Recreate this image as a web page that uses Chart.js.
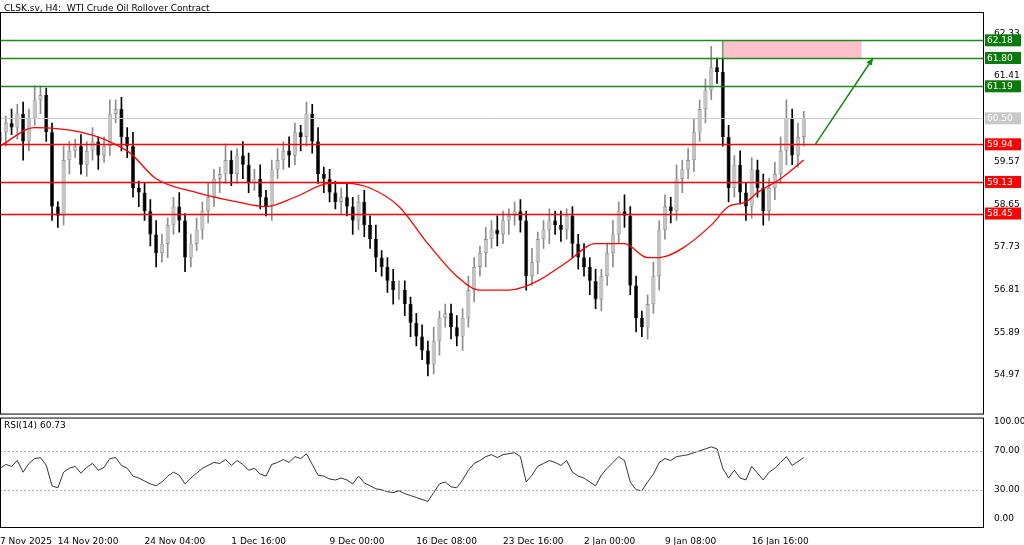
<!DOCTYPE html>
<html><head><meta charset="utf-8">
<script src="https://cdn.jsdelivr.net/npm/chart.js@4"></script>
<style>html,body{margin:0;padding:0;background:#fff}#w{position:relative;width:1024px;height:545px}
.t{position:absolute;font:9px "DejaVu Sans",sans-serif;color:#000}</style></head>
<body><div id="w"><canvas id="c" width="1024" height="545"></canvas>
<div class="t" style="left:4px;top:3px">CLSK.sv, H4:&nbsp; WTI Crude Oil Rollover Contract</div>
<div class="t" style="left:4px;top:420px">RSI(14) 60.73</div></div>
<script>
const closes=[60.2,60.4,60.3,60.6,60.0,60.5,60.9,61.0,60.2,58.6,
58.4,59.6,59.8,59.9,59.5,59.8,60.0,59.7,59.9,60.6,
60.7,60.1,59.9,59.0,58.9,58.5,58.0,57.6,57.8,58.2,
58.6,58.3,57.5,57.8,58.1,58.5,58.8,59.2,59.3,59.6,
59.3,59.7,59.5,59.1,59.2,58.8,58.6,59.4,59.6,59.8,
59.7,60.2,60.1,60.6,60.0,59.3,59.2,58.9,58.7,58.8,
58.6,58.3,58.7,58.2,57.9,57.5,57.3,57.0,56.8,56.8,
56.5,56.1,55.8,55.5,55.2,55.7,56.2,56.3,56.0,55.8,
56.2,56.8,57.3,57.6,57.9,58.1,58.0,58.3,58.4,58.5,
58.3,57.1,57.4,57.9,58.1,58.3,58.2,58.1,58.4,57.8,
57.5,57.3,57.0,56.6,57.1,57.6,58.0,58.5,58.4,56.9,
56.2,56.0,56.5,57.1,58.1,58.6,58.5,59.2,59.4,59.6,
60.2,60.7,61.1,61.6,61.5,60.1,59.0,59.5,58.9,58.6,
59.4,59.0,58.5,59.0,59.3,59.8,60.5,59.7,60.1,60.5];
const firstOpen=60.0;
const wickUp=[.2,.15,.3,.2,.25,.2,.3,.2,.15,.2,.1,.3,.2,.15,.25,.2,.3,.1,.2,.3,
.2,.25,.2,.3,.15,.2,.25,.3,.2,.15,.2,.3,.15,.2,.25,.2,.3,.2,.15,.35,
.2,.15,.3,.25,.2,.3,.15,.2,.25,.2,.3,.2,.15,.25,.2,.3,.15,.2,.25,.2,
.3,.2,.15,.25,.2,.3,.15,.2,.25,.2,.2,.15,.2,.25,.2,.3,.15,.2,.2,.25,
.2,.3,.2,.15,.25,.2,.3,.2,.15,.2,.25,.2,.3,.15,.2,.25,.2,.3,.15,.2,
.2,.3,.2,.25,.15,.2,.3,.2,.35,.2,.2,.15,.2,.3,.2,.25,.2,.3,.2,.25,
.3,.2,.25,.45,.2,.3,.25,.2,.3,.2,.25,.2,.3,.2,.25,.3,.4,.2,.3,.15];
const wickDn=[.2,.3,.15,.25,.4,.2,.15,.3,.2,.3,.25,.2,.3,.15,.2,.25,.2,.3,.15,.2,
.2,.3,.25,.2,.3,.2,.25,.3,.2,.3,.2,.25,.3,.2,.15,.2,.25,.2,.3,.2,
.25,.2,.3,.2,.15,.25,.2,.3,.2,.2,.25,.2,.3,.2,.25,.2,.3,.2,.15,.25,
.2,.3,.2,.25,.2,.3,.2,.25,.3,.2,.25,.3,.2,.2,.25,.2,.3,.2,.25,.2,
.3,.2,.25,.2,.3,.2,.25,.2,.3,.2,.25,.3,.2,.25,.2,.3,.2,.25,.2,.3,
.25,.2,.3,.2,.25,.2,.3,.2,.25,.2,.3,.2,.25,.2,.3,.2,.25,.2,.3,.2,
.25,.2,.3,.2,.25,.2,.3,.2,.25,.3,.25,.2,.3,.2,.25,.2,.3,.2,.25,.2];
const maIdx=[0,6,22,27,34,41,46,51,57,60,64,69,74,79,83,88,93,98,103,108,112,114,118,123,126,129,131,135,139];
const maVal=[59.9,60.3,59.8,59.2,58.9,58.7,58.6,58.8,59.1,59.1,59.0,58.6,57.8,57.1,56.8,56.8,57.0,57.4,57.8,57.8,57.5,57.5,57.7,58.2,58.6,58.7,58.9,59.2,59.6];
const rsi=[52,56,54,60,48,57,62,63,55,34,32,48,52,54,47,53,57,50,53,62,
63,55,52,44,42,39,36,34,38,44,48,45,36,42,47,52,55,58,57,61,
55,60,56,50,52,46,44,56,58,61,58,64,62,67,56,45,44,41,40,42,
40,36,44,37,34,31,30,28,27,29,26,24,22,20,18,27,36,38,33,32,
40,50,57,60,64,66,63,66,67,68,64,38,45,54,57,60,58,55,60,48,
44,42,38,34,45,52,58,64,60,38,30,29,38,46,58,62,60,64,65,66,
68,70,72,74,72,52,42,50,42,40,54,47,40,48,52,58,64,55,59,63];
const dateLabels=["7 Nov 2025","14 Nov 20:00","24 Nov 04:00","1 Dec 16:00","9 Dec 00:00","16 Dec 08:00","23 Dec 16:00","2 Jan 00:00","9 Jan 08:00","16 Jan 16:00"];
const dateIdx=[0,10,25,40,57,72,87,101,115,130];
const priceTicks=[62.33,61.41,59.57,58.65,57.73,56.81,55.89,54.97];
const greenLevels=[62.18,61.80,61.19];
const redLevels=[59.94,59.13,58.45];
const currentPrice=60.50;
const zoneLo=61.80, zoneHi=62.18, zoneFrom=125, zoneTo=149;
const arrowFrom=[141,59.94], arrowTo=[151,61.80];
const rsiLevels=[70,30];
const TOTAL=171;

const opens=closes.map((c,i)=>i?closes[i-1]:firstOpen);
const labels=Array.from({length:TOTAL},(_,i)=>String(i));
const body=closes.map((c,i)=>[opens[i],c]);
const wick=closes.map((c,i)=>[Math.min(opens[i],c)-wickDn[i],Math.max(opens[i],c)+wickUp[i]]);
const bull=closes.map((c,i)=>c>=opens[i]);
const maData=new Array(TOTAL).fill(null);maIdx.forEach((v,i)=>maData[v]=maVal[i]);
const FONT={family:"DejaVu Sans",size:9};

const overlay={id:'ov',afterDatasetsDraw(ch){
 const {ctx,chartArea:a,scales:{x,y,y2}}=ch;
 const R=a.right;
 ctx.save();
 const hl=(v,col,w)=>{const py=Math.round(y.getPixelForValue(v))+.5;ctx.strokeStyle=col;ctx.lineWidth=w;ctx.beginPath();ctx.moveTo(0,py);ctx.lineTo(R,py);ctx.stroke();};
 hl(currentPrice,'#c8c8c8',1);
 const zx1=x.getPixelForValue(zoneFrom),zx2=x.getPixelForValue(zoneTo);
 const zy1=y.getPixelForValue(zoneHi),zy2=y.getPixelForValue(zoneLo);
 ctx.fillStyle='#ffc0cb';ctx.fillRect(zx1,zy1,zx2-zx1,zy2-zy1);
 ctx.strokeStyle='#1a8a1a';ctx.lineWidth=1;ctx.beginPath();ctx.moveTo(zx1,zy1);ctx.lineTo(zx1,zy2);ctx.stroke();
 greenLevels.forEach(v=>hl(v,'#1a8a1a',1.3));
 redLevels.forEach(v=>hl(v,'#ff0000',1.3));
 const ax1=x.getPixelForValue(arrowFrom[0]),ay1=y.getPixelForValue(arrowFrom[1]);
 const ax2=x.getPixelForValue(arrowTo[0]),ay2=y.getPixelForValue(arrowTo[1]);
 ctx.strokeStyle='#138a13';ctx.fillStyle='#138a13';ctx.lineWidth=1.5;
 ctx.beginPath();ctx.moveTo(ax1,ay1);ctx.lineTo(ax2,ay2);ctx.stroke();
 const ang=Math.atan2(ay2-ay1,ax2-ax1);
 ctx.beginPath();ctx.moveTo(ax2,ay2);ctx.lineTo(ax2-8*Math.cos(ang-0.4),ay2-8*Math.sin(ang-0.4));ctx.lineTo(ax2-8*Math.cos(ang+0.4),ay2-8*Math.sin(ang+0.4));ctx.closePath();ctx.fill();
 ctx.setLineDash([2,2]);ctx.strokeStyle='#b0b0b0';ctx.lineWidth=1;
 rsiLevels.forEach(v=>{const py=Math.round(y2.getPixelForValue(v))+.5;ctx.beginPath();ctx.moveTo(a.left,py);ctx.lineTo(R,py);ctx.stroke();});
 ctx.setLineDash([]);
 ctx.font='9px "DejaVu Sans"';ctx.textBaseline='middle';
 const box=(v,bg,fg)=>{const py=y.getPixelForValue(v);ctx.fillStyle=bg;ctx.fillRect(R+2,py-6,36,12);ctx.fillStyle=fg;ctx.fillText(v.toFixed(2),R+4,py+0.5);};
 box(currentPrice,'#c8c8c8','#fff');
 greenLevels.forEach(v=>box(v,'#0a7a0a','#fff'));
 redLevels.forEach(v=>box(v,'#ff0000','#fff'));
 const sep=y.bottom;ctx.fillStyle='#fff';ctx.fillRect(0,sep-1,R,4);
 ctx.strokeStyle='#000';ctx.lineWidth=1;
 ctx.strokeRect(0.5,a.top+.5,R,sep-a.top-1);
 ctx.strokeRect(0.5,sep+3.5,R,a.bottom-sep-4);
 ctx.restore();
}};

new Chart(document.getElementById('c'),{
 data:{labels,datasets:[
  {type:'bar',data:wick,yAxisID:'y',backgroundColor:bull.map(b=>b?'#8c8c8c':'#000'),barThickness:1,grouped:false,order:2},
  {type:'bar',data:body,yAxisID:'y',backgroundColor:bull.map(b=>b?'#c4c4c4':'#000'),borderColor:bull.map(b=>b?'#777':'#000'),borderWidth:0.6,borderSkipped:false,barPercentage:0.7,categoryPercentage:1,grouped:false,order:1},
  {type:'line',data:maData,spanGaps:true,yAxisID:'y',borderColor:'#ff0000',borderWidth:1.3,pointRadius:0,cubicInterpolationMode:'monotone',order:0},
  {type:'line',data:rsi,yAxisID:'y2',borderColor:'#000',borderWidth:0.8,pointRadius:0,tension:0,order:0}
 ]},
 options:{responsive:false,animation:false,
  layout:{padding:{top:12,left:0,right:0,bottom:0}},
  plugins:{legend:{display:false},tooltip:{enabled:false}},
  scales:{
   x:{type:'category',offset:false,grid:{display:false},border:{display:false},
     afterBuildTicks(s){s.ticks=dateIdx.map(v=>({value:v}));},
     ticks:{autoSkip:false,maxRotation:0,align:'start',padding:0,color:'#000',font:FONT,callback:(v,i)=>dateLabels[i]},
     afterFit(s){s.height=17;}},
   y:{type:'linear',position:'right',stack:'p',stackWeight:401,min:54.12,max:62.79,
     grid:{display:false},border:{display:false},
     afterBuildTicks(s){s.ticks=priceTicks.map(v=>({value:v}));},
     ticks:{color:'#000',font:FONT,padding:3,callback:v=>v.toFixed(2)},
     afterFit(s){s.width=41;}},
   y2:{type:'linear',position:'right',stack:'p',stackWeight:113,min:-9.3,max:107.2,
     grid:{display:false},border:{display:false},
     afterBuildTicks(s){s.ticks=[100,70,30,0].map(v=>({value:v}));},
     ticks:{color:'#000',font:FONT,padding:3,callback:v=>v.toFixed(2)},
     afterFit(s){s.width=41;}}
  }},
 plugins:[overlay]
});
</script></body></html>
